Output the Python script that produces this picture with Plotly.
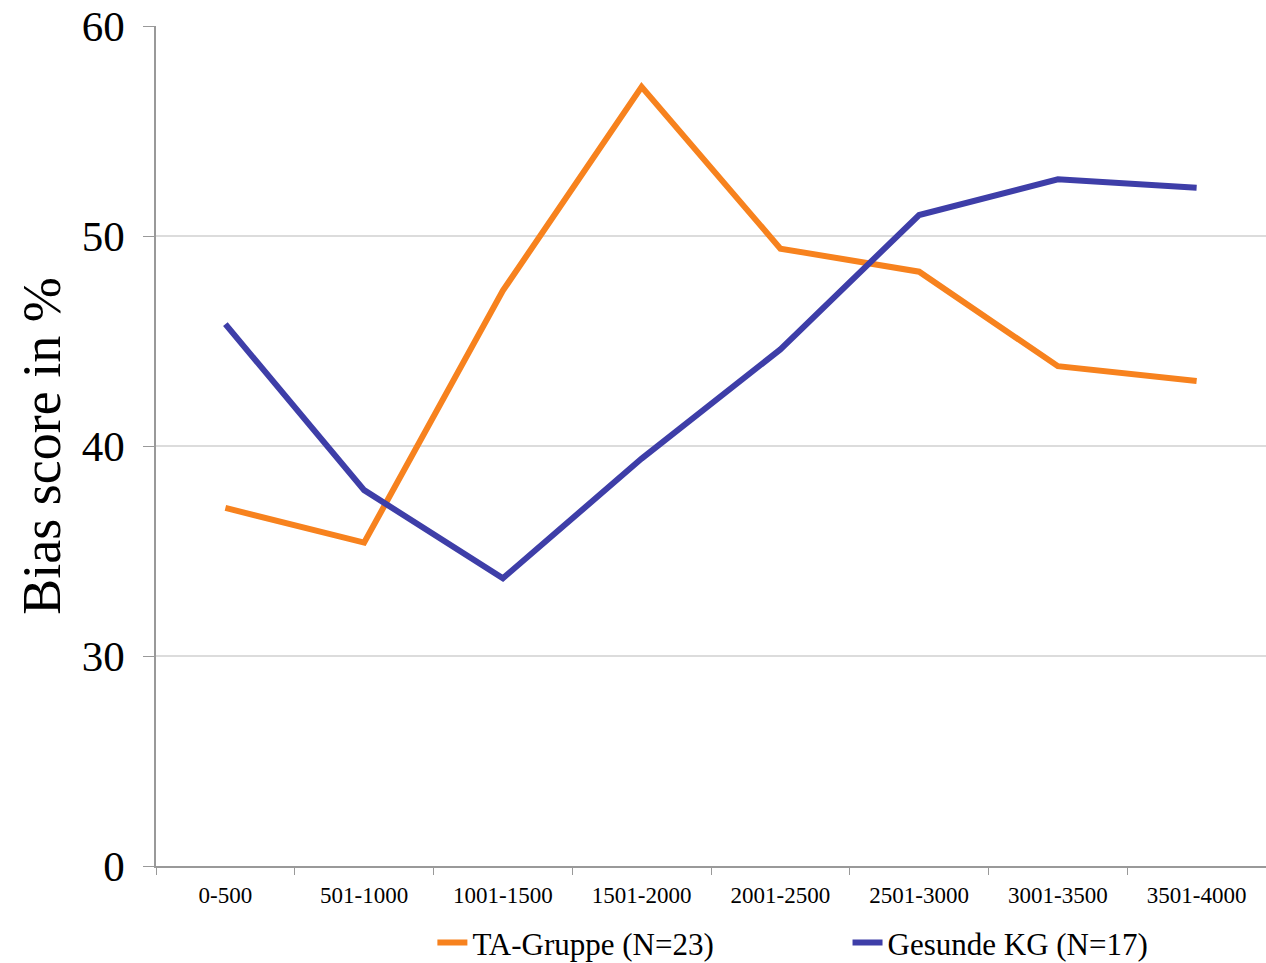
import plotly.graph_objects as go

categories = ["0-500", "501-1000", "1001-1500", "1501-2000",
              "2001-2500", "2501-3000", "3001-3500", "3501-4000"]
ta_gruppe = [37.05, 35.4, 47.4, 57.1, 49.4, 48.3, 43.8, 43.1]
gesunde_kg = [45.8, 37.9, 33.7, 39.4, 44.6, 51.0, 52.7, 52.3]
y_tickvals = [20, 30, 40, 50, 60]
y_ticktext = ["0", "30", "40", "50", "60"]

FONT = "Liberation Serif, Times New Roman, serif"

fig = go.Figure()
fig.add_trace(go.Scatter(x=categories, y=ta_gruppe, mode="lines",
                         name="TA-Gruppe (N=23)", legend="legend",
                         line=dict(color="#F7821E", width=6)))
fig.add_trace(go.Scatter(x=categories, y=gesunde_kg, mode="lines",
                         name="Gesunde KG (N=17)", legend="legend2",
                         line=dict(color="#3E3EA8", width=6)))

leg_common = dict(orientation="h", yref="container", yanchor="middle", y=0.021,
                  xanchor="left", font=dict(size=31, family=FONT),
                  bgcolor="rgba(0,0,0,0)")

fig.update_layout(
    width=1266, height=963,
    margin=dict(l=156, r=0, t=26, b=97),
    paper_bgcolor="white", plot_bgcolor="white",
    font=dict(family=FONT, color="black"),
    showlegend=True,
    legend=dict(x=0.249, **leg_common),
    legend2=dict(x=0.623, **leg_common),
    xaxis=dict(type="category", tickson="boundaries", ticks="outside", ticklen=7,
               tickcolor="#999999", showline=True, linecolor="#999999", linewidth=1.5,
               showgrid=False, tickfont=dict(size=23, family=FONT),
               ticklabelstandoff=8, range=[-0.5, 7.5]),
    yaxis=dict(range=[20, 60], tickvals=y_tickvals, ticktext=y_ticktext,
               ticks="outside", ticklen=11, tickcolor="#999999",
               showline=True, linecolor="#999999", linewidth=1.5,
               showgrid=True, gridcolor="#dcdcdc", gridwidth=1.5,
               tickfont=dict(size=43, family=FONT), ticklabelstandoff=10,
               title=dict(text="Bias score in %", font=dict(size=54, family=FONT),
                          standoff=4),
               zeroline=False),
)

fig.write_html("out.html", config={"displayModeBar": False},
               post_script="document.body.style.margin='0';document.body.style.overflow='hidden';")
